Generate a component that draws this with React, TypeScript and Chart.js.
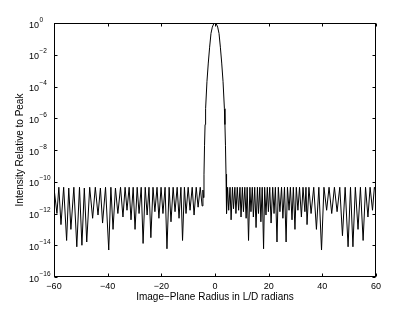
import React, { useEffect, useRef } from "react";
import { Chart, registerables } from "chart.js";

Chart.register(...registerables);

// ---- data ----
const leftRadius = [
  -60, -58.9, -58.2, -57.4, -56.4, -55.3, -54.5, -53.7, -52.6, -51.5, -50.5, -49.6, -48.7, -47.8,
  -46.7, -45.6, -44.6, -43.6, -42.7, -41.9, -40.8, -39.6, -38.8, -38.0, -37.1, -36.2, -35.2, -34.3,
  -33.5, -32.8, -32.0, -31.3, -30.5, -29.8, -29.0, -28.3, -27.5, -26.8, -26.0, -25.3, -24.6, -23.9,
  -23.1, -22.4, -21.6, -20.9, -20.1, -19.4, -18.6, -17.9, -17.1, -16.4, -15.6, -14.9, -14.1, -13.4,
  -12.7, -12.1, -11.4, -10.8, -10.0, -9.3, -8.5, -7.8, -7.0, -6.3, -5.5, -4.8, -4.5, -4.3,
];
const leftIntensity = [
  4e-11, 1e-12, 4.5e-11, 2e-13, 4.5e-11, 2e-14, 4e-11, 1e-13, 4.5e-11, 8e-15, 4.5e-11, 1e-14, 4e-11, 1.6e-14,
  4.5e-11, 5e-13, 4.5e-11, 8e-13, 4e-11, 2.5e-13, 4.5e-11, 5e-15, 4.5e-11, 1e-13, 4e-11, 1e-12, 4.5e-11, 6e-13,
  4.5e-11, 1.6e-12, 4.5e-11, 4e-13, 4.5e-11, 1e-13, 4.5e-11, 1e-12, 4.5e-11, 1.3e-14, 4.5e-11, 8e-13, 4.5e-11, 3e-14,
  4.5e-11, 1.3e-12, 4.5e-11, 5e-13, 4.5e-11, 1e-12, 4.5e-11, 6e-15, 4.5e-11, 3e-13, 4.5e-11, 1.3e-12, 4.5e-11, 5e-13,
  4.5e-11, 2e-14, 4.5e-11, 1e-12, 4.5e-11, 1.6e-12, 4.5e-11, 8e-13, 4.5e-11, 2.5e-12, 4.5e-11, 3e-12, 3e-11, 1e-11,
];
const coreRadius = [-4.1, -3.9, -3.7, -3.5, -3.0, -2.5, -2.0, -1.5, -1.0, -0.5, 0, 0.5, 1.0, 1.5, 2.0, 2.5, 3.0, 3.5, 3.7, 3.9, 4.1];
const coreIntensity = [3e-10, 2e-8, 4e-7, 4e-6, 2e-4, 3e-3, 0.03, 0.22, 0.55, 0.87, 1, 0.87, 0.55, 0.22, 0.03, 3e-3, 2e-4, 4e-6, 4e-7, 2e-8, 3e-10];
const rightRadius = [
  4.3, 4.7, 5.1, 5.6, 6.0, 6.5, 6.9, 7.4, 7.8, 8.3, 8.8, 9.3, 9.7, 10.2, 10.6, 11.1, 11.6, 12.0, 12.5, 13.0,
  13.4, 13.9, 14.3, 14.8, 15.3, 15.8, 16.2, 16.7, 17.1, 17.6, 18.1, 18.5, 19.0, 19.5, 19.9, 20.4, 20.9, 21.5,
  22.0, 22.5, 23.1, 23.6, 24.2, 24.8, 25.3, 25.9, 26.5, 27.0, 27.6, 28.1, 28.7, 29.2, 29.8, 30.3, 30.9, 31.5,
  32.2, 32.8, 33.5, 33.9, 34.3, 35.0, 35.8, 36.8, 37.8, 38.7, 39.7, 40.6, 41.6, 42.5, 43.5, 44.5, 45.5, 46.5,
  47.5, 48.5, 49.6, 50.5, 51.4, 52.3, 53.3, 54.2, 55.2, 56.1, 57.0, 57.8, 58.7, 59.4, 60,
];
const rightIntensity = [
  1e-12, 4.5e-11, 1.6e-12, 4.5e-11, 4e-13, 4.5e-11, 2e-12, 4.5e-11, 1e-12, 4.5e-11, 1.6e-12, 4.5e-11, 6e-13, 4.5e-11, 1.3e-12, 4.5e-11, 5e-13, 4.5e-11, 2e-14, 4.5e-11,
  1.3e-12, 4.5e-11, 6e-13, 4.5e-11, 1.3e-13, 4.5e-11, 1e-12, 4.5e-11, 3e-13, 4.5e-11, 6e-15, 4.5e-11, 8e-13, 4.5e-11, 1.3e-12, 4.5e-11, 2.5e-13, 4.5e-11,
  1e-12, 4.5e-11, 1.6e-14, 4.5e-11, 1.3e-12, 4.5e-11, 5e-13, 4.5e-11, 1.6e-14, 4.5e-11, 1.6e-12, 4.5e-11, 4e-13, 4.5e-11, 1e-13, 4.5e-11, 1.6e-12, 4.5e-11,
  6e-13, 4.5e-11, 1.3e-12, 4.5e-11, 2e-13, 4.5e-11, 1e-12, 4.5e-11, 1e-13, 4.5e-11, 5e-15, 4.5e-11, 1.6e-12, 4.5e-11, 1e-12, 4.5e-11, 1.3e-12, 4.5e-11,
  4e-14, 4.5e-11, 8e-15, 4.5e-11, 8e-15, 4.5e-11, 1e-13, 4.5e-11, 2e-14, 4.5e-11, 6e-13, 4.5e-11, 1.6e-12, 4.5e-11, 2.5e-11,
];

const xTicks = [-60, -40, -20, 0, 20, 40, 60];
const yTicks = [1, 1e-2, 1e-4, 1e-6, 1e-8, 1e-10, 1e-12, 1e-14, 1e-16];
const yTickExponents = ["0", "\u22122", "\u22124", "\u22126", "\u22128", "\u221210", "\u221212", "\u221214", "\u221216"];

const xTitle = "Image\u2212Plane Radius in L/D radians";
const yTitle = "Intensity Relative to Peak";

const FONT = "'Liberation Sans', Arial, Helvetica, sans-serif";

const framePlugin = {
  id: "frame",
  afterDraw(chart: any) {
    const { ctx, chartArea: a, scales } = chart;
    const xs = scales.x;
    const ys = scales.y;
    ctx.save();
    ctx.strokeStyle = "#000";
    ctx.lineWidth = 1;
    const L = Math.round(a.left) + 0.5;
    const R = Math.round(a.right) - 0.5;
    const T = Math.round(a.top) + 0.5;
    const B = Math.round(a.bottom) - 0.5;
    ctx.strokeRect(L, T, R - L, B - T);
    const tl = 3;
    ctx.beginPath();
    xTicks.forEach((v) => {
      const px = Math.round(xs.getPixelForValue(v)) + 0.5;
      ctx.moveTo(px, B);
      ctx.lineTo(px, B - tl);
      ctx.moveTo(px, T);
      ctx.lineTo(px, T + tl);
    });
    yTicks.forEach((v) => {
      const py = Math.round(ys.getPixelForValue(v)) + 0.5;
      ctx.moveTo(L, py);
      ctx.lineTo(L + tl, py);
      ctx.moveTo(R, py);
      ctx.lineTo(R - tl, py);
    });
    ctx.stroke();
    // y tick labels as 10 with superscript exponent
    ctx.fillStyle = "#000";
    ctx.textBaseline = "alphabetic";
    ctx.textAlign = "left";
    yTicks.forEach((v, i) => {
      const py = ys.getPixelForValue(v);
      ctx.font = `9px ${FONT}`;
      const baseX = 29;
      ctx.fillText("10", baseX, py + 4.5);
      const w = ctx.measureText("10").width;
      ctx.font = `6.5px ${FONT}`;
      ctx.fillText(yTickExponents[i], baseX + w + 0.5, py - 1.5);
    });
    ctx.restore();
  },
};

export default function App() {
  const ref = useRef<HTMLCanvasElement | null>(null);
  useEffect(() => {
    document.body.style.margin = "0";
    const canvas = ref.current;
    if (!canvas) return;
    const radius = [...leftRadius, ...coreRadius, ...rightRadius];
    const intensity = [...leftIntensity, ...coreIntensity, ...rightIntensity];
    const points = radius.map((r, i) => ({ x: r, y: intensity[i] }));
    const chart = new Chart(canvas, {
      type: "line",
      data: {
        datasets: [
          {
            data: points,
            borderColor: "#000",
            borderWidth: 1,
            pointRadius: 0,
            fill: false,
            tension: 0,
          },
        ],
      },
      options: {
        responsive: false,
        animation: false,
        events: [],
        layout: { padding: { top: 23, right: 39, left: 0, bottom: 0 } },
        plugins: { legend: { display: false }, tooltip: { enabled: false } },
        scales: {
          x: {
            type: "linear",
            min: -60,
            max: 60,
            afterBuildTicks: (s: any) => {
              s.ticks = xTicks.map((v) => ({ value: v }));
            },
            afterFit: (s: any) => {
              s.height = 35;
            },
            grid: { display: false, drawTicks: false },
            border: { display: false },
            ticks: {
              color: "#000",
              font: { family: FONT, size: 9 },
              padding: 4,
              maxRotation: 0,
              callback: (v: any) => (Number(v) < 0 ? "\u2212" + Math.abs(Number(v)) : String(v)),
            },
            title: {
              display: true,
              text: xTitle,
              color: "#000",
              font: { family: FONT, size: 10 },
              padding: { top: 0, bottom: 9 },
            },
          },
          y: {
            type: "logarithmic",
            min: 1e-16,
            max: 1,
            afterBuildTicks: (s: any) => {
              s.ticks = yTicks.map((v) => ({ value: v }));
            },
            afterFit: (s: any) => {
              s.width = 54;
            },
            grid: { display: false, drawTicks: false },
            border: { display: false },
            ticks: { display: false },
            title: {
              display: true,
              text: yTitle,
              color: "#000",
              font: { family: FONT, size: 10 },
              padding: { top: 14, bottom: 0 },
            },
          },
        },
      },
      plugins: [framePlugin],
    });
    return () => chart.destroy();
  }, []);
  return (
    <div style={{ width: 415, height: 312 }}>
      <canvas ref={ref} width={415} height={312} style={{ display: "block" }} />
    </div>
  );
}
